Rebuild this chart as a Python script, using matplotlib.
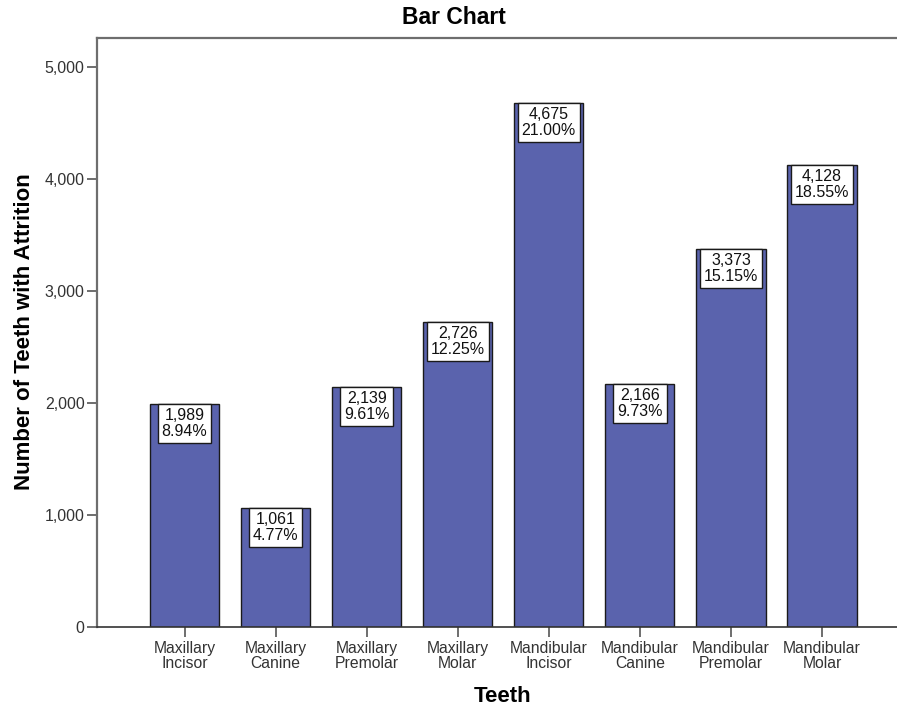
import matplotlib
matplotlib.use("Agg")
import matplotlib.pyplot as plt
from matplotlib.ticker import FuncFormatter

plt.rcParams['font.family'] = ['Liberation Sans', 'DejaVu Sans']

# data
teeth = ["Maxillary\nIncisor", "Maxillary\nCanine", "Maxillary\nPremolar", "Maxillary\nMolar",
         "Mandibular\nIncisor", "Mandibular\nCanine", "Mandibular\nPremolar", "Mandibular\nMolar"]
counts = [1989, 1061, 2139, 2726, 4675, 2166, 3373, 4128]
percents = [8.94, 4.77, 9.61, 12.25, 21.00, 9.73, 15.15, 18.55]
yticks = [0, 1000, 2000, 3000, 4000, 5000]

W, H = 897, 709
fig = plt.figure(figsize=(W / 100, H / 100), dpi=100)
ax = fig.add_axes([97 / W, 82 / H, 1 - 97 / W, (627 - 38) / H])

x = list(range(len(teeth)))
bars = ax.bar(x, counts, width=0.76, color="#5A63AD", edgecolor="#1a1a1a", linewidth=1.0)

lab_fs = 11.5
pad = 0.25
for xi, c, p in zip(x, counts, percents):
    ax.annotate(f"{c:,}\n{p:.2f}%", xy=(xi, c), xytext=(0, -pad * lab_fs), textcoords="offset points",
                ha="center", va="top", fontsize=lab_fs, linespacing=1.08, color="#111111",
                bbox=dict(boxstyle=f"square,pad={pad}", fc="white", ec="#1a1a1a", lw=1.0))

ax.set_xlim(-0.961, 7.824)
ax.set_ylim(0, 5259)
ax.set_xticks(x)
ax.set_xticklabels(teeth, fontsize=11.3, color="#333333", linespacing=1.0)
ax.set_yticks(yticks)
ax.yaxis.set_major_formatter(FuncFormatter(lambda v, pos: f"{int(v):,}"))
ax.tick_params(axis="y", labelsize=11.5, labelcolor="#333333", length=7, width=1.2,
               color="#555555", pad=2)
ax.tick_params(axis="x", length=7, width=1.2, color="#555555", pad=3)

for side in ["left", "top", "bottom"]:
    ax.spines[side].set_color("#6e6e6e")
    ax.spines[side].set_linewidth(1.6)
ax.spines["right"].set_visible(False)
ax.spines["bottom"].set_color("#333333")
ax.spines["bottom"].set_linewidth(1.2)

fig.text(0.506, 1 - 18 / H, "Bar Chart", ha="center", va="center", fontsize=16.5, fontweight="bold")
fig.text(503 / W, 1 - 696 / H, "Teeth", ha="center", va="center", fontsize=16, fontweight="bold")
fig.text(25 / W, 1 - 331.5 / H, "Number of Teeth with Attrition", ha="center", va="center",
         rotation=90, fontsize=16, fontweight="bold")

fig.savefig("out.png", dpi=100)
